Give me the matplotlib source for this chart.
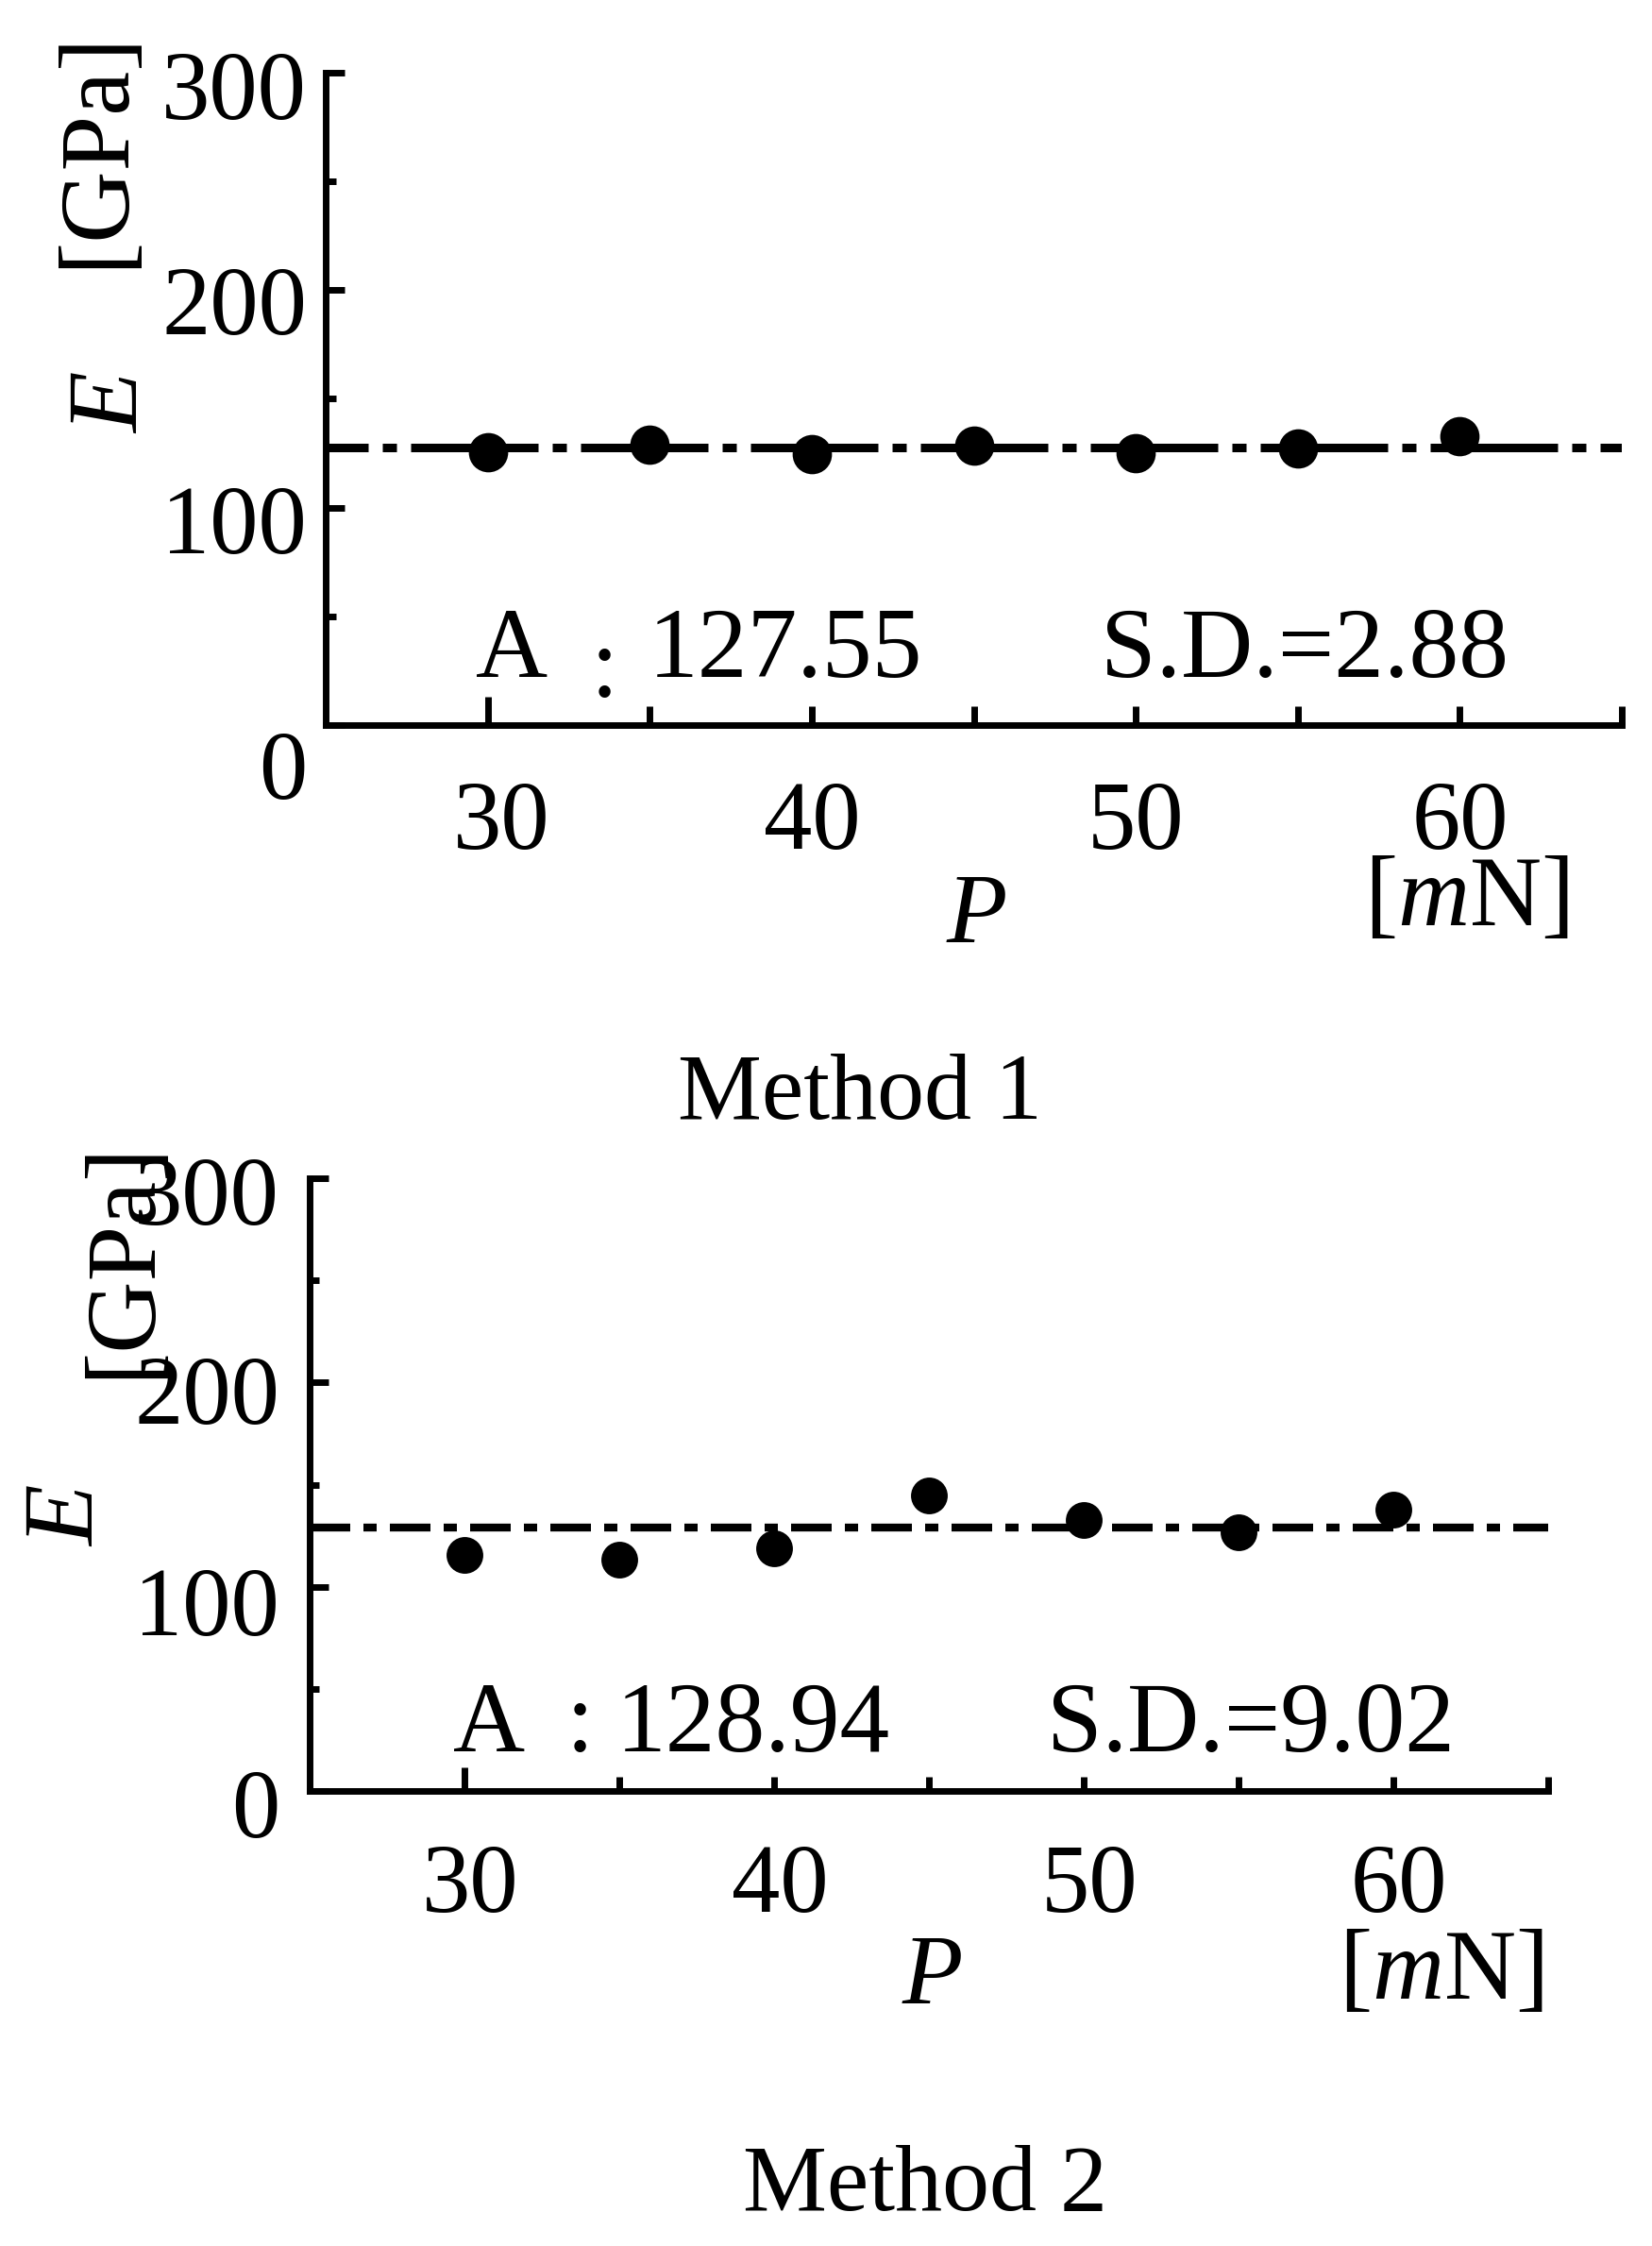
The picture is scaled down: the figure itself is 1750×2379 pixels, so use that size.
import matplotlib
matplotlib.use('Agg')
import matplotlib.pyplot as plt
from matplotlib.transforms import ScaledTranslation

plt.rcParams['font.family'] = ['Liberation Serif', 'DejaVu Serif']
plt.rcParams['mathtext.fontset'] = 'custom'
plt.rcParams['mathtext.rm'] = 'Liberation Serif'
plt.rcParams['mathtext.it'] = 'Liberation Serif:italic'
plt.rcParams['lines.scale_dashes'] = False

# ---------------- data ----------------
load_mN = [30, 35, 40, 45, 50, 55, 60]
E_method1 = [125.5, 129.0, 124.5, 128.5, 125.2, 127.2, 132.9]
E_method2 = [115.4, 113.4, 119.0, 144.9, 132.7, 126.7, 137.8]
avg_values = [127.55, 128.94]
sd_values = [2.88, 9.02]
titles = ['Method 1', 'Method 2']
x_ticks = [30, 35, 40, 45, 50, 55, 60, 65]
x_ticklabels = ['30', '', '40', '', '50', '', '60', '']
y_ticks = [0, 100, 200, 300]
y_ticklabels = ['0', '100', '200', '300']
y_minor = [50, 150, 250]
x_range = (25, 65)
y_range = (0, 300)

W, H = 1750, 2379
DPI = 100
PT = 72.0 / DPI   # points per pixel

fig = plt.figure(figsize=(W / DPI, H / DPI), dpi=DPI, facecolor='white')

def fx(px):
    return px / W

def fy(py):
    return 1 - py / H

# layout (pixels)
panels = [
    dict(left=345, right=1718, top=77, bottom=768, series=E_method1,
         msize=30, lw=6.5, dash=(135, 15, 15, 15), dash_off=90,
         ylen=20, ylen_minor=11, xlen=20, xlen_first=30,
         ypad=20, xpad=59,
         ylab_dy=[42, 12, 11, 13], xlab_dx=[15, 0, 0, 0, 0, 0, 0, 0],
         A=(504, 717), colon=(640, 738), avg=(687, 717), sd=(1382, 717),
         P=(1035, 998), unit=(1553, 980), E=(121, 427), GPa=(104, 158),
         title=(911, 1185)),
    dict(left=328, right=1640, top=1248, bottom=1897, series=E_method2,
         msize=28, lw=6.0, dash=(43, 14, 14, 14), dash_off=0,
         ylen=20, ylen_minor=10, xlen=15, xlen_first=25,
         ypad=32, xpad=56,
         ylab_dy=[13, 15, 8, 13], xlab_dx=[6, 0, 6, 0, 6, 0, 6, 0],
         A=(480, 1855), colon=(614, 1855), avg=(653, 1855), sd=(1325, 1855),
         P=(988, 2122), unit=(1526, 2117), E=(74, 1606), GPa=(132, 1334),
         title=(980, 2341)),
]

TICK_FS = 74
ANN_FS = 76
TITLE_FS = 72

for i, p in enumerate(panels):
    ax = fig.add_axes([fx(p['left']), fy(p['bottom']),
                       (p['right'] - p['left']) / W,
                       (p['bottom'] - p['top']) / H])
    ax.set_facecolor('none')
    ax.set_xlim(*x_range)
    ax.set_ylim(*y_range)
    for s in ['top', 'right']:
        ax.spines[s].set_visible(False)
    for s in ['left', 'bottom']:
        ax.spines[s].set_linewidth(5)
        ax.spines[s].set_capstyle('projecting')

    # mean line (dash-dot)
    ax.axhline(avg_values[i], color='black', lw=p['lw'],
               linestyle=(p['dash_off'] * PT, tuple(d * PT for d in p['dash'])),
               zorder=2)
    # data points
    ax.plot(load_mN, p['series'], linestyle='none', marker='o',
            markersize=p['msize'], color='black', markeredgewidth=0,
            zorder=3, clip_on=False)

    ax.set_xticks(x_ticks, labels=x_ticklabels)
    ax.set_yticks(y_ticks, labels=y_ticklabels)
    ax.set_yticks(y_minor, minor=True)

    ax.tick_params(axis='both', which='both', direction='in', width=5,
                   color='black')
    ax.tick_params(axis='y', which='major', length=p['ylen'] * PT,
                   pad=p['ypad'] * PT, labelsize=TICK_FS)
    ax.tick_params(axis='y', which='minor', length=p['ylen_minor'] * PT)
    ax.tick_params(axis='x', which='major', length=p['xlen'] * PT,
                   pad=p['xpad'] * PT, labelsize=TICK_FS)

    xt = ax.xaxis.get_major_ticks()
    xt[0].tick1line.set_markersize(p['xlen_first'] * PT)
    for t, dx in zip(xt, p['xlab_dx']):
        t.label1.set_transform(t.label1.get_transform() +
                               ScaledTranslation(dx / DPI, 0, fig.dpi_scale_trans))
    yt = ax.yaxis.get_major_ticks()
    for t, dy in zip(yt, p['ylab_dy']):
        t.label1.set_transform(t.label1.get_transform() +
                               ScaledTranslation(0, -dy / DPI, fig.dpi_scale_trans))

    # annotations
    fig.text(fx(p['A'][0]), fy(p['A'][1]), 'A', fontsize=ANN_FS,
             ha='left', va='baseline')
    fig.text(fx(p['colon'][0]), fy(p['colon'][1]), ':', fontsize=ANN_FS,
             ha='center', va='baseline')
    fig.text(fx(p['avg'][0]), fy(p['avg'][1]), f'{avg_values[i]:.2f}',
             fontsize=ANN_FS, ha='left', va='baseline')
    fig.text(fx(p['sd'][0]), fy(p['sd'][1]), f'S.D.={sd_values[i]:.2f}',
             fontsize=ANN_FS, ha='center', va='baseline')

    # axis labels
    fig.text(fx(p['P'][0]), fy(p['P'][1]), 'P', fontsize=ANN_FS,
             style='italic', ha='center', va='baseline')
    fig.text(fx(p['unit'][0]), fy(p['unit'][1]), r'[$\mathit{m}$N]',
             fontsize=ANN_FS, ha='center', va='baseline')
    fig.text(fx(p['E'][0]), fy(p['E'][1]), 'E', fontsize=ANN_FS,
             style='italic', rotation=90, ha='center', va='center')
    fig.text(fx(p['GPa'][0]), fy(p['GPa'][1]), '[GPa]', fontsize=ANN_FS,
             rotation=90, ha='center', va='center')

    fig.text(fx(p['title'][0]), fy(p['title'][1]), titles[i],
             fontsize=TITLE_FS, ha='center', va='baseline')

fig.savefig('out.png', dpi=DPI, facecolor='white')
